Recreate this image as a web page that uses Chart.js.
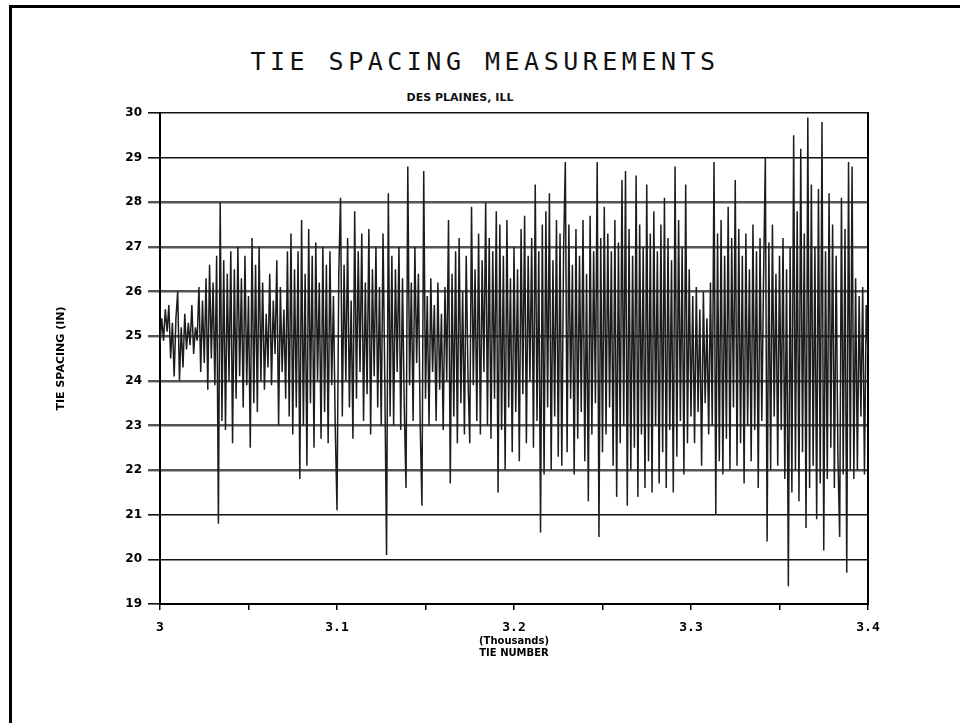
<!DOCTYPE html>
<html>
<head>
<meta charset="utf-8">
<title>Tie Spacing Measurements</title>
<script src="https://cdn.jsdelivr.net/npm/chart.js@4/dist/chart.umd.min.js"></script>
<style>
  body { margin: 0; background: #fff; }
  #wrap { position: relative; width: 960px; height: 723px; overflow: hidden; }
  #frame { position: absolute; left: 9px; top: 5px; right: -10px; bottom: -10px;
           border-top: 3px solid #000; border-left: 3px solid #000; }
  #title { position: absolute; top: 47px; left: 0; width: 970px; text-align: center;
           font: 25px 'DejaVu Sans Mono', monospace; letter-spacing: 4.5px; color: #111; }
  #subtitle { position: absolute; top: 91px; left: 0; width: 920px; text-align: center;
              font: bold 11px 'DejaVu Sans', sans-serif; color: #111; }
  canvas { position: absolute; left: 0; top: 0; }
</style>
</head>
<body>
<div id="wrap">
  <div id="frame"></div>
  <div id="title">TIE SPACING MEASUREMENTS</div>
  <div id="subtitle">DES PLAINES, ILL</div>
  <canvas id="tieChart" width="960" height="723"></canvas>
</div>
<script>
// first tie on the plot, x axis is shown in thousands
const tieStart = 3000;

// tie spacing (inches), one value per tie from 3000 to 3400
const tieSpacing = [
  24.8, 25.4, 24.9, 25.6, 25.1, 25.7, 24.5, 25.3, 24.1, 25.4, 26.0, 24.0, 25.2, 24.3, 25.5, 24.7, 25.3, 24.8, 25.7, 24.6, 25.2, 24.9, 26.1, 24.2, 25.8,
  24.4, 26.3, 23.8, 26.6, 24.5, 26.2, 23.9, 26.8, 20.8, 28.0, 23.1, 26.7, 22.9, 26.4, 24.0, 26.9, 22.6, 26.5, 23.6, 27.0, 24.1, 26.3, 23.4, 26.8, 23.9,
  25.9, 22.5, 27.2, 23.5, 26.6, 23.3, 27.0, 24.0, 26.2, 23.8, 25.5, 24.3, 26.4, 23.9, 25.8, 24.6, 26.7, 23.0, 26.1, 24.2, 25.6, 23.6, 26.9, 23.2, 27.3,
  22.8, 26.5, 23.4, 26.9, 21.8, 27.6, 23.0, 26.4, 22.1, 27.4, 23.5, 26.8, 22.5, 27.1, 24.0, 26.2, 22.7, 27.0, 23.3, 26.6, 22.6, 26.9, 23.9, 25.9, 23.0,
  21.1, 26.4, 28.1, 23.2, 26.6, 24.0, 27.2, 23.4, 25.8, 22.7, 27.8, 23.6, 26.9, 24.2, 27.3, 23.1, 26.2, 23.7, 27.4, 22.8, 26.5, 24.1, 27.0, 23.4, 26.1,
  23.0, 27.3, 24.0, 20.1, 28.2, 23.2, 26.8, 23.0, 26.5, 24.2, 27.0, 22.9, 26.3, 23.4, 21.6, 28.8, 23.9, 26.2, 23.1, 27.0, 24.4, 26.4, 23.0, 21.2, 28.7,
  23.6, 25.9, 23.0, 26.3, 24.2, 25.7, 23.1, 26.2, 23.8, 25.5, 22.9, 26.1, 24.0, 27.6, 21.7, 26.4, 23.2, 26.9, 22.6, 27.2, 23.5, 26.0, 22.8, 26.8, 24.1,
  22.6, 27.9, 23.9, 26.5, 23.1, 27.3, 22.8, 26.7, 24.2, 28.0, 23.0, 27.2, 22.7, 26.9, 23.6, 27.8, 21.5, 27.5, 22.9, 26.8, 22.0, 27.6, 23.4, 26.3, 22.4,
  27.0, 23.3, 26.5, 22.2, 27.4, 23.7, 27.7, 22.6, 26.8, 24.0, 27.2, 22.5, 28.4, 23.1, 26.9, 20.6, 27.5, 21.9, 27.8, 23.4, 28.2, 22.0, 26.7, 23.2, 27.6,
  22.3, 27.3, 22.1, 26.9, 28.9, 22.4, 27.5, 23.6, 26.6, 21.9, 27.4, 22.7, 26.8, 23.3, 27.6, 22.2, 26.4, 21.3, 27.7, 22.8, 26.9, 23.5, 28.9, 20.5, 27.2,
  22.4, 27.9, 22.8, 27.3, 23.4, 26.9, 22.1, 27.6, 21.4, 27.1, 22.6, 28.5, 23.0, 28.7, 21.2, 27.4, 22.0, 26.8, 22.5, 28.6, 21.4, 27.5, 22.8, 27.0, 21.6,
  28.4, 22.2, 27.3, 21.5, 27.8, 23.0, 26.9, 21.7, 27.5, 22.4, 28.1, 21.6, 27.2, 22.9, 26.7, 21.5, 28.8, 22.3, 27.6, 23.1, 27.0, 21.9, 28.4, 22.6, 26.5,
  23.2, 25.9, 22.6, 26.1, 23.3, 25.6, 22.1, 26.0, 23.5, 25.4, 22.8, 26.2, 23.0, 28.9, 21.0, 27.3, 22.2, 27.6, 21.9, 26.8, 22.7, 27.9, 22.0, 27.2, 23.4,
  28.5, 22.1, 27.4, 22.6, 26.8, 21.7, 27.3, 23.0, 26.5, 22.2, 27.5, 22.9, 26.9, 21.6, 27.2, 23.1, 26.3, 29.0, 20.4, 27.1, 22.0, 27.5, 23.2, 26.4, 22.1,
  26.8, 22.9, 27.2, 21.8, 26.5, 19.4, 27.0, 21.5, 29.5, 22.0, 27.8, 21.3, 29.2, 22.4, 27.3, 20.7, 29.9, 21.6, 28.4, 22.1, 27.0, 20.9, 28.3, 21.7, 29.8,
  20.2, 26.9, 21.8, 28.2, 22.5, 27.5, 21.6, 26.8, 22.3, 20.5, 28.1, 21.9, 27.4, 19.7, 28.9, 22.0, 28.8, 21.8, 26.3, 22.0, 25.9, 23.2, 26.1, 21.9, 25.7, 24.6
];

// axis ranges and tick labels
const xMin = 3.0, xMax = 3.4, xStep = 0.05;
const xTickLabels = ['3', '3.1', '3.2', '3.3', '3.4'];
const yMin = 19, yMax = 30;

// x values in thousands of ties
const points = tieSpacing.map((v, i) => ({ x: (tieStart + i) / 1000, y: v }));

// grid lines inside the busy band print grey and heavier on the original
const inBand = v => v >= 22 && v <= 28;

const config = {
    type: 'line',
    data: {
        datasets: [{
            label: 'Tie spacing',
            data: points,
            borderColor: '#1c1c1c',
            borderWidth: 1.5,
            pointRadius: 0,
            tension: 0,
            fill: false
        }]
    },
    options: {
        responsive: false,
        animation: false,
        layout: { padding: { left: 0, right: 92, top: 113, bottom: 59 } },
        plugins: {
            legend: { display: false },
            tooltip: { enabled: false }
        },
        scales: {
            x: {
                type: 'linear',
                min: xMin,
                max: xMax,
                afterFit: s => { s.height = 60; },
                afterBuildTicks: s => {
                    // tick every 0.05, labelled every 0.1
                    s.ticks = [];
                    for (let k = 0; k <= 8; k++) s.ticks.push({ value: xMin + k * xStep });
                },
                ticks: {
                    autoSkip: false,
                    maxRotation: 0,
                    padding: 10,
                    color: '#000',
                    font: { family: "'DejaVu Sans Mono'", size: 13, weight: 'bold' },
                    callback: (v, i) => (i % 2 === 0 ? xTickLabels[i / 2] : '')
                },
                grid: { drawOnChartArea: false, drawTicks: true, tickLength: 6, color: '#000', lineWidth: 1.5 },
                border: { display: true, color: '#000', width: 2 },
                title: {
                    display: true,
                    text: ['(Thousands)', 'TIE NUMBER'],
                    color: '#000',
                    font: { family: "'DejaVu Sans'", size: 10, weight: 'bold', lineHeight: 1.2 },
                    padding: { top: 0, bottom: 5 }
                }
            },
            y: {
                min: yMin,
                max: yMax,
                afterFit: s => { s.width = 160; },
                ticks: {
                    stepSize: 1,
                    padding: 6,
                    color: '#000',
                    font: { family: "'DejaVu Sans'", size: 12, weight: 'bold' }
                },
                grid: {
                    color: c => (inBand(c.tick.value) ? '#555' : '#111'),
                    lineWidth: c => (inBand(c.tick.value) ? 2.4 : 1.6),
                    tickLength: 12
                },
                border: { display: true, color: '#000', width: 2 },
                title: {
                    display: true,
                    text: 'TIE SPACING (IN)',
                    color: '#000',
                    font: { family: "'DejaVu Sans'", size: 11, weight: 'bold' },
                    padding: { top: 55, bottom: 0 }
                }
            },
            // right hand frame line only
            yRight: {
                position: 'right',
                min: yMin,
                max: yMax,
                afterFit: s => { s.width = 0; },
                ticks: { display: false },
                grid: { drawOnChartArea: false, drawTicks: false },
                border: { display: true, color: '#000', width: 2 }
            }
        }
    }
};

const ctx = document.getElementById('tieChart').getContext('2d');
window.tieChart = new Chart(ctx, config);
</script>
</body>
</html>
